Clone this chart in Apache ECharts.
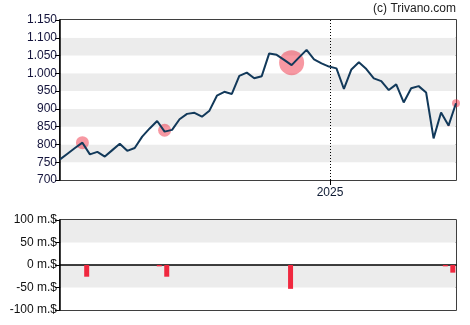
<!DOCTYPE html>
<html>
<head>
<meta charset="utf-8">
<script src="https://cdn.jsdelivr.net/npm/echarts@6/dist/echarts.min.js"></script>
<style>
html,body{margin:0;padding:0;background:#fff;}
#chart{width:470px;height:325px;}
</style>
</head>
<body>
<div id="chart"></div>
<script>
// Weekly price data
const dates = [
 '2024-04-23','2024-04-30','2024-05-07','2024-05-14','2024-05-21','2024-05-28',
 '2024-06-04','2024-06-11','2024-06-18','2024-06-25','2024-07-02','2024-07-09',
 '2024-07-16','2024-07-23','2024-07-30','2024-08-06','2024-08-13','2024-08-20',
 '2024-08-27','2024-09-03','2024-09-10','2024-09-17','2024-09-24','2024-10-01',
 '2024-10-08','2024-10-15','2024-10-22','2024-10-29','2024-11-05','2024-11-12',
 '2024-11-19','2024-11-26','2024-12-03','2024-12-10','2024-12-17','2024-12-24',
 '2024-12-31','2025-01-07','2025-01-14','2025-01-21','2025-01-28','2025-02-04',
 '2025-02-11','2025-02-18','2025-02-25','2025-03-04','2025-03-11','2025-03-18',
 '2025-03-25','2025-04-01','2025-04-08','2025-04-15','2025-04-22','2025-04-29'
];
const prices = [
 758, 774, 790, 805, 772, 779,
 766, 784, 802, 782, 790, 822,
 845, 866, 836, 841, 871, 886,
 889, 878, 895, 937, 948, 942,
 993, 1002, 986, 992, 1056, 1052,
 1038, 1023, 1045, 1066, 1039, 1028,
 1019, 1014, 956, 1011, 1031, 1012,
 986, 978, 953, 969, 918, 958,
 964, 946, 817, 890, 853, 916
];
// Event markers on the price line
const eventDates = ['2024-05-14','2024-07-30','2024-11-26','2025-04-22','2025-04-29'];
const eventPrices = [805, 840, 1030, 853, 916];
const eventSizes = [13, 13, 25, 2, 8];
// Lower chart bars (m.$)
const barDates = ['2024-05-18','2024-07-25','2024-08-01','2024-11-25','2025-04-19','2025-04-26'];
const barValues = [-26, -3, -26, -53, -3, -17];
const yearMark = '2025-01-01';
const yearLabel = '2025';

const FONT = 'Liberation Sans, Arial, sans-serif';
const parseT = s => { const p = s.split('-').map(Number); return Date.UTC(p[0], p[1]-1, p[2]); };
const xMin = parseT(dates[0]), xMax = parseT(dates[dates.length-1]);
const yearT = parseT(yearMark);

const fmtMain = v => v >= 1000 ? Math.floor(v/1000) + '.' + String(v % 1000).padStart(3,'0') : String(v);

const chart = echarts.init(document.getElementById('chart'), null, {renderer:'canvas'});
chart.setOption({
  animation: false,
  backgroundColor: '#fff',
  graphic: [{
    type: 'text', right: 14, top: 3,
    style: {text: '(c) Trivano.com', font: '12px ' + FONT, fill: '#222', textAlign: 'right'}
  }],
  grid: [
    {left: 60, right: 14, top: 20, height: 160, show: true, borderColor: '#000', borderWidth: 1.5, backgroundColor: 'transparent'},
    {left: 60, right: 14, top: 220, height: 90, show: true, borderColor: '#000', borderWidth: 1.5, backgroundColor: 'transparent'}
  ],
  xAxis: [
    {type: 'value', gridIndex: 0, min: xMin, max: xMax,
     axisLine: {show: false}, splitLine: {show: false},
     axisTick: {show: true, customValues: [yearT], length: 5, lineStyle: {color: '#000', width: 1}},
     axisLabel: {show: true, customValues: [yearT], formatter: () => yearLabel, color: '#0d1a33', fontFamily: FONT, fontSize: 12, margin: 7}
    },
    {type: 'value', gridIndex: 1, min: xMin, max: xMax,
     axisLine: {show: true, onZero: true, lineStyle: {color: '#000', width: 1.5}},
     axisTick: {show: false}, axisLabel: {show: false}, splitLine: {show: false}
    }
  ],
  yAxis: [
    {type: 'value', gridIndex: 0, min: 700, max: 1150, interval: 50,
     axisLine: {show: true, lineStyle: {color: '#000', width: 1.5}},
     axisTick: {show: true, length: 5, lineStyle: {color: '#000'}},
     axisLabel: {formatter: fmtMain, color: '#14143c', fontFamily: FONT, fontSize: 12, margin: 3},
     splitLine: {show: false},
     splitArea: {show: true, areaStyle: {color: ['#ffffff', '#ececec']}}
    },
    {type: 'value', gridIndex: 1, min: -100, max: 100, interval: 50,
     axisLine: {show: true, lineStyle: {color: '#000', width: 1.5}},
     axisTick: {show: true, length: 5, lineStyle: {color: '#000'}},
     axisLabel: {formatter: v => v + ' m.$', color: '#111', fontFamily: FONT, fontSize: 12, margin: 3},
     splitLine: {show: false},
     splitArea: {show: true, areaStyle: {color: ['#ffffff', '#ececec']}}
    }
  ],
  series: [
    {type: 'scatter', xAxisIndex: 0, yAxisIndex: 0, z: 2,
     data: eventDates.map((d, i) => [parseT(d), eventPrices[i], eventSizes[i]]),
     symbolSize: v => v[2],
     itemStyle: {color: 'rgba(238,40,60,0.6)'},
     silent: true
    },
    {type: 'line', xAxisIndex: 0, yAxisIndex: 0, z: 3,
     data: dates.map((d, i) => [parseT(d), prices[i]]),
     showSymbol: false, symbol: 'none',
     lineStyle: {color: '#12395a', width: 2},
     markLine: {silent: true, symbol: 'none', label: {show: false},
       lineStyle: {color: '#000', type: [1, 2], width: 1},
       data: [{xAxis: yearT}]}
    },
    {type: 'bar', xAxisIndex: 1, yAxisIndex: 1,
     data: barDates.map((d, i) => [parseT(d), barValues[i]]),
     barWidth: 5, itemStyle: {color: '#f0283f'}
    }
  ]
});
</script>
</body>
</html>
